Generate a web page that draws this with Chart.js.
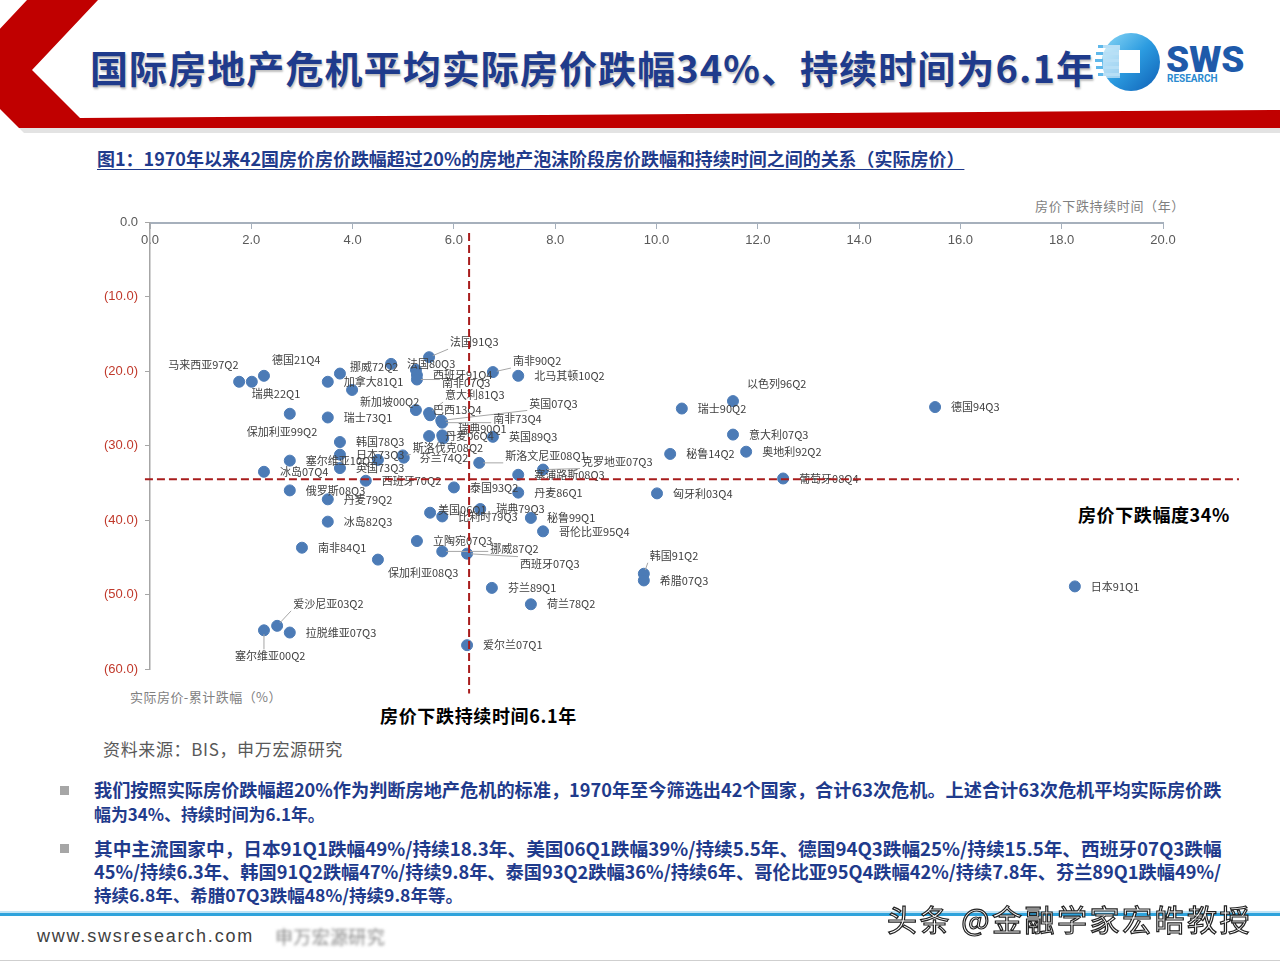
<!DOCTYPE html>
<html><head><meta charset="utf-8">
<script src="https://cdn.jsdelivr.net/npm/chart.js@4.4.0/dist/chart.umd.min.js"></script>
<style>
html,body{margin:0;padding:0;background:#fff;}
body{width:1280px;height:963px;position:relative;overflow:hidden;font-family:"Noto Sans CJK SC","Noto Sans",sans-serif;}
.abs{position:absolute;white-space:nowrap;}
#chart{position:absolute;left:0;top:0;z-index:2;pointer-events:none;}
.title{left:90px;top:44px;font-size:38px;line-height:46px;font-weight:700;color:#1F3B8C;text-shadow:1px 2px 2px rgba(0,0,0,0.25);}
.sub{left:97px;top:147px;font-size:18px;line-height:22px;font-weight:700;color:#1F3B8C;text-decoration:underline;text-underline-offset:3px;}
.src{left:103px;top:739px;font-size:17px;line-height:20px;color:#595959;}
.bl{left:94px;font-size:19px;line-height:23px;font-weight:700;color:#1F3B8C;}
.sq{position:absolute;left:60px;width:9px;height:9px;background:#A6A6A6;}
.ann{font-size:18px;line-height:22px;font-weight:700;color:#000;}
.axt{font-size:13px;line-height:16px;color:#7F7F7F;}
</style></head><body>
<svg class="abs" style="left:0;top:0" width="1280" height="140">
  <polygon points="19,128 1280,128 1280,133 24,133" fill="#E3E3E3"/>
  <polygon points="27,0 98,0 32,70 80,118 1280,110 1280,128 19,128 -39,70" fill="#C00000"/>
</svg>
<div class="abs title" data-w="1005">国际房地产危机平均实际房价跌幅34%、持续时间为6.1年</div>
<svg class="abs" style="left:1090px;top:25px" width="185" height="80">
  <defs>
    <linearGradient id="lg" x1="0" y1="0" x2="1" y2="1">
      <stop offset="0" stop-color="#8FDAF7"/><stop offset="0.5" stop-color="#2B9BE0"/><stop offset="1" stop-color="#0F5FB5"/>
    </linearGradient>
  </defs>
  <circle cx="41" cy="37" r="29" fill="url(#lg)"/>
  <rect x="8" y="20" width="22" height="3" fill="#5FB8EA"/>
  <rect x="6" y="27" width="24" height="3" fill="#5FB8EA"/>
  <rect x="5" y="34" width="25" height="3" fill="#5FB8EA"/>
  <rect x="6" y="41" width="24" height="3" fill="#5FB8EA"/>
  <rect x="8" y="48" width="22" height="3" fill="#5FB8EA"/>
  <rect x="13" y="20" width="17" height="33" fill="#fff" opacity="0.55"/>
  <rect x="29" y="25" width="21" height="23" fill="#fff"/>
  <text x="76" y="47" font-size="37" font-weight="900" fill="#1E5AAA" font-family="Roboto, 'Liberation Sans', sans-serif">SWS</text>
  <text x="77" y="57" font-size="10" font-weight="700" fill="#2A8AD0" font-family="Roboto, 'Liberation Sans', sans-serif">RESEARCH</text>
</svg>
<div class="abs sub" data-w="868">图1：1970年以来42国房价房价跌幅超过20%的房地产泡沫阶段房价跌幅和持续时间之间的关系（实际房价）</div>

<div class="abs axt" style="left:1035px;top:198px" data-w="150">房价下跌持续时间（年）</div>
<div class="abs axt" style="left:130px;top:689px" data-w="152">实际房价-累计跌幅（%）</div>
<div class="abs ann" style="left:1078px;top:503px" data-w="152">房价下跌幅度34%</div>
<div class="abs ann" style="left:380px;top:704px" data-w="197">房价下跌持续时间6.1年</div>

<div class="abs src" data-w="240">资料来源：BIS，申万宏源研究</div>
<div class="sq" style="top:786px"></div>
<div class="abs bl" style="top:778px" data-w="1128">我们按照实际房价跌幅超20%作为判断房地产危机的标准，1970年至今筛选出42个国家，合计63次危机。上述合计63次危机平均实际房价跌</div>
<div class="abs bl" style="top:802px" data-w="231">幅为34%、持续时间为6.1年。</div>
<div class="sq" style="top:844px"></div>
<div class="abs bl" style="top:836px" data-w="1128">其中主流国家中，日本91Q1跌幅49%/持续18.3年、美国06Q1跌幅39%/持续5.5年、德国94Q3跌幅25%/持续15.5年、西班牙07Q3跌幅</div>
<div class="abs bl" style="top:860px" data-w="1128">45%/持续6.3年、韩国91Q2跌幅47%/持续9.8年、泰国93Q2跌幅36%/持续6年、哥伦比亚95Q4跌幅42%/持续7.8年、芬兰89Q1跌幅49%/</div>
<div class="abs bl" style="top:883px" data-w="369">持续6.8年、希腊07Q3跌幅48%/持续9.8年等。</div>

<div class="abs" style="left:0;top:911px;width:1280px;height:2px;background:#BFE3F5"></div>
<div class="abs" style="left:0;top:913px;width:1280px;height:3px;background:#2FA3DC"></div>
<div class="abs" style="left:0;top:960px;width:1280px;height:1px;background:#CFCFCF"></div>
<div class="abs" style="left:37px;top:925px;font-size:18px;line-height:22px;color:#404040;font-family:'Liberation Sans',Arial,sans-serif" data-w="217">www.swsresearch.com</div>
<div class="abs" style="left:275px;top:925px;font-size:18px;line-height:22px;color:#888;filter:blur(1.8px)" data-w="110">申万宏源研究</div>
<div class="abs" style="left:887px;top:900px;font-size:30px;line-height:36px;color:#fff;-webkit-text-stroke:1.2px #222;z-index:3" data-w="365">头条 @金融学家宏皓教授</div>

<canvas id="chart" width="1280" height="963"></canvas>
<script>
// ---- data ----
const NAMES = ["马来西亚97Q2","瑞典22Q1","德国21Q4","加拿大81Q1","挪威72Q2","","","法国91Q3","法国80Q3","西班牙91Q4","南非07Q3","南非90Q2","北马其顿10Q2","新加坡00Q2","意大利81Q3","巴西13Q4","英国07Q3","南非73Q4","瑞典90Q1","丹麦06Q4","","英国89Q3","韩国78Q3","日本73Q3","英国73Q3","塞尔维亚10Q2","冰岛07Q4","","斯洛伐克08Q2","芬兰74Q2","西班牙70Q2","俄罗斯08Q3","丹麦79Q2","冰岛82Q3","保加利亚99Q2","瑞士73Q1","斯洛文尼亚08Q1","塞浦路斯08Q3","克罗地亚07Q3","泰国93Q2","丹麦86Q1","美国06Q1","比利时79Q3","瑞典79Q3","秘鲁99Q1","哥伦比亚95Q4","立陶宛07Q3","挪威87Q2","西班牙07Q3","南非84Q1","保加利亚08Q3","芬兰89Q1","荷兰78Q2","爱尔兰07Q1","塞尔维亚00Q2","爱沙尼亚03Q2","拉脱维亚07Q3","以色列96Q2","瑞士90Q2","意大利07Q3","秘鲁14Q2","奥地利92Q2","葡萄牙08Q4","匈牙利03Q4","德国94Q3","韩国91Q2","希腊07Q3","日本91Q1"];
const DURATION_YEARS = [1.76,2.01,2.25,3.51,3.75,3.99,4.76,5.51,5.25,5.27,5.27,6.77,7.27,5.25,5.51,5.53,5.75,5.77,5.77,5.79,5.51,6.77,3.75,3.75,3.75,2.76,2.25,4.50,4.99,5.01,4.26,2.76,3.51,3.51,2.76,3.51,6.50,7.27,7.76,6.00,7.27,5.53,5.77,6.52,7.52,7.76,5.27,5.77,6.26,3.00,4.50,6.75,7.52,6.26,2.25,2.51,2.76,11.51,10.50,11.51,10.27,11.77,12.50,10.01,15.50,9.75,9.75,18.26];
const DECLINE_PCT = [-21.4,-21.4,-20.6,-21.4,-20.3,-22.5,-19.0,-18.1,-19.8,-20.5,-21.1,-20.1,-20.6,-25.2,-25.6,-25.9,-26.6,-26.9,-28.6,-29.0,-28.7,-28.8,-29.5,-31.2,-33.0,-32.0,-33.5,-31.9,-31.3,-31.6,-34.7,-36.0,-37.2,-40.2,-25.7,-26.2,-32.3,-33.9,-33.2,-35.6,-36.3,-39.0,-39.5,-38.5,-39.7,-41.5,-42.8,-44.2,-44.5,-43.7,-45.3,-49.1,-51.3,-56.8,-54.8,-54.2,-55.1,-24.0,-25.0,-28.5,-31.1,-30.8,-34.4,-36.4,-24.8,-47.2,-48.1,-48.9];
const X_TICKS = [0,2,4,6,8,10,12,14,16,18,20];
const Y_TICKS = [0,-10,-20,-30,-40,-50,-60];
const AVG_DURATION = 6.3;   // vertical reference line (as drawn)
const AVG_DECLINE = -34.5;  // horizontal reference line
const VLINE_SPAN = [-1.4, -63.3];
const HLINE_SPAN = [-0.1, 21.5];

// ---- label placement (layout only): [dx to label left, dy to label centre, leader] ----
const LABEL_DEFAULT = [16, 0, false];
const LABEL_OFFSETS = {
  "马来西亚97Q2":[-71,-17],"德国21Q4":[8,-16],"瑞典22Q1":[0,12],"挪威72Q2":[10,-7],
  "法国80Q3":[-9,-6],"南非07Q3":[25,3,true],"法国91Q3":[21,-15,true],"南非90Q2":[20,-11,true],
  "新加坡00Q2":[-56,-8],"意大利81Q3":[16,-18,true],"巴西13Q4":[3,-5],"英国07Q3":[88,-17,true],
  "南非73Q4":[51,-4,true],"瑞典90Q1":[16,-7,true],"丹麦06Q4":[2,-2],"斯洛伐克08Q2":[10,-8,true],
  "斯洛文尼亚08Q1":[26,-7,true],"克罗地亚07Q3":[39,-8,true],"保加利亚99Q2":[-43,18],"美国06Q1":[8,-3],
  "挪威87Q2":[48,-3,true],"西班牙07Q3":[53,10,true],"保加利亚08Q3":[10,13],"塞尔维亚00Q2":[-29,26,true],
  "爱沙尼亚03Q2":[16,-22,true],"以色列96Q2":[14,-17],"韩国91Q2":[6,-18,true]
};

// fit HTML texts to measured widths
document.querySelectorAll('[data-w]').forEach(el=>{
  const target = +el.dataset.w;
  const w = el.getBoundingClientRect().width;
  const n = [...el.textContent].length;
  if (w > target) {
    const fs = parseFloat(getComputedStyle(el).fontSize);
    el.style.fontSize = (fs*target/w) + 'px';
  } else {
    el.style.letterSpacing = ((target - w)/n) + 'px';
  }
});

const FONT = '"Noto Sans CJK SC","Liberation Sans",sans-serif';
Chart.defaults.font.family = FONT;

const overlay = {
  id: 'overlay',
  afterDatasetsDraw(chart) {
    const ctx = chart.ctx;
    const xs = chart.scales.x, ys = chart.scales.y;
    const meta = chart.getDatasetMeta(0);
    ctx.save();
    ctx.font = '11px ' + FONT;
    ctx.textBaseline = 'middle';
    ctx.textAlign = 'left';
    meta.data.forEach((el, i) => {
      const name = NAMES[i];
      if (!name) return;
      const off = LABEL_OFFSETS[name] || LABEL_DEFAULT;
      const lx = el.x + off[0], ly = el.y + off[1];
      const w = ctx.measureText(name).width;
      if (off[2]) {
        const l = lx - 2, r = lx + w, t = ly - 7, b = ly + 7;
        const nx = Math.min(Math.max(el.x, l), r);
        const ny = Math.min(Math.max(el.y, t), b);
        const dx = nx - el.x, dy = ny - el.y, d = Math.hypot(dx, dy) || 1;
        ctx.strokeStyle = '#A6A6A6'; ctx.lineWidth = 1;
        ctx.beginPath();
        ctx.moveTo(el.x + dx/d*4, el.y + dy/d*4);
        ctx.lineTo(nx, ny);
        ctx.stroke();
      }
      ctx.fillStyle = '#404040';
      ctx.fillText(name, lx, ly);
    });
    // reference lines
    ctx.strokeStyle = '#A81C1C';
    ctx.lineWidth = 2;
    ctx.setLineDash([8, 4]);
    const vx = xs.getPixelForValue(AVG_DURATION);
    ctx.beginPath();
    ctx.moveTo(vx, ys.getPixelForValue(VLINE_SPAN[0]));
    ctx.lineTo(vx, ys.getPixelForValue(VLINE_SPAN[1]));
    ctx.stroke();
    const hy = ys.getPixelForValue(AVG_DECLINE);
    ctx.beginPath();
    ctx.moveTo(xs.getPixelForValue(HLINE_SPAN[0]), hy);
    ctx.lineTo(xs.getPixelForValue(HLINE_SPAN[1]), hy);
    ctx.stroke();
    ctx.restore();
  }
};

new Chart(document.getElementById('chart'), {
  type: 'scatter',
  data: {
    datasets: [{
      data: NAMES.map((n, i) => ({x: DURATION_YEARS[i], y: DECLINE_PCT[i]})),
      backgroundColor: '#4C7BB6',
      borderColor: '#4C7BB6',
      pointRadius: 5.5,
      pointHoverRadius: 5.5
    }]
  },
  options: {
    responsive: false,
    animation: false,
    devicePixelRatio: 1,
    layout: { padding: { left: 90, top: 222.5, right: 117, bottom: 294 } },
    plugins: { legend: { display: false }, tooltip: { enabled: false } },
    scales: {
      x: {
        type: 'linear', min: 0, max: 20,
        position: { y: 0 },
        afterBuildTicks: s => { s.ticks = X_TICKS.map(v => ({value: v})); },
        afterFit: s => { s.height = 0; },
        ticks: { callback: v => Number(v).toFixed(1), color: '#595959', font: { size: 13, family: '"Liberation Sans",Arial,sans-serif' }, padding: 5, maxRotation: 0 },
        grid: { drawOnChartArea: false, drawTicks: true, tickLength: 5, color: '#A6B0BC' },
        border: { display: true, color: '#A6B0BC', width: 2 }
      },
      y: {
        type: 'linear', min: -60, max: 0,
        position: 'left',
        afterBuildTicks: s => { s.ticks = Y_TICKS.map(v => ({value: v})); },
        afterFit: s => { s.width = 60; },
        ticks: {
          callback: v => v === 0 ? '0.0' : '(' + Math.abs(v).toFixed(1) + ')',
          color: c => (c.tick && c.tick.value < 0) ? '#C0392B' : '#595959',
          font: { size: 13, family: '"Liberation Sans",Arial,sans-serif' }, padding: 7
        },
        grid: { drawOnChartArea: false, drawTicks: true, tickLength: 5, color: '#A6A6A6' },
        border: { display: true, color: '#A6A6A6', width: 1.5 }
      }
    }
  },
  plugins: [overlay]
});
</script>
</body></html>
